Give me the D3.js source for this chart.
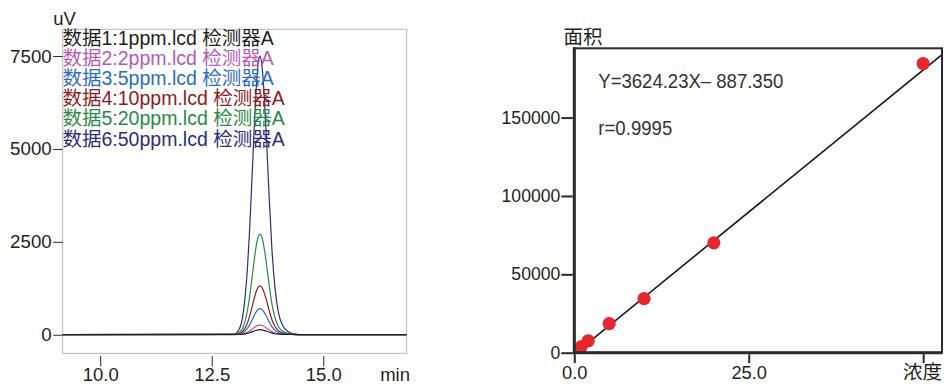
<!DOCTYPE html>
<html><head><meta charset="utf-8">
<script src="https://cdn.jsdelivr.net/npm/d3@7"></script>
<style>
html,body{margin:0;padding:0;background:#fff;}
svg{display:block;}
text{font-family:"Liberation Sans",Arial,"Noto Sans CJK SC",sans-serif;}
</style></head><body>
<svg id="c" width="944" height="384"></svg>
<script>
// ---------- Chromatogram data (min, uV) ----------
const times = [9.15, 13.0, 13.1, 13.2, 13.3, 13.35, 13.4, 13.45, 13.5, 13.55, 13.58, 13.62, 13.67, 13.72, 13.78, 13.85, 13.92, 14.0, 14.1, 14.2, 14.3, 14.45, 16.87];
const s1 = [5, 5, 7, 14, 36, 54, 77, 100, 121, 133, 135, 132, 119, 99, 73, 45, 26, 15, 9, 7, 6, 5, 5];
const s2 = [5, 6, 9, 23, 65, 101, 146, 192, 232, 256, 260, 253, 228, 190, 138, 83, 47, 24, 13, 8, 6, 5, 5];
const s3 = [5, 6, 15, 54, 170, 268, 389, 514, 623, 689, 700, 682, 614, 510, 366, 216, 120, 57, 26, 13, 8, 5, 5];
const s4 = [5, 8, 24, 97, 316, 501, 729, 967, 1171, 1296, 1317, 1283, 1154, 957, 687, 404, 221, 103, 44, 21, 10, 5, 5];
const s5 = [5, 10, 44, 195, 645, 1026, 1495, 1984, 2405, 2662, 2705, 2635, 2370, 1965, 1409, 826, 451, 208, 86, 37, 16, 5, 5];
const s6 = [5, 20, 114, 533, 1781, 2838, 4142, 5499, 6668, 7380, 7500, 7305, 6571, 5446, 3902, 2283, 1242, 567, 230, 95, 35, 5, 5];
const seriesValues = [s1, s2, s3, s4, s5, s6];
const seriesNames = ["数据1:1ppm.lcd 检测器A", "数据2:2ppm.lcd 检测器A", "数据3:5ppm.lcd 检测器A",
                     "数据4:10ppm.lcd 检测器A", "数据5:20ppm.lcd 检测器A", "数据6:50ppm.lcd 检测器A"];
const seriesColors = ["#231f20", "#b45cb6", "#2f6cbf", "#8c1d24", "#2b8a49", "#2c2f78"];
const leftYMajor = [0, 2500, 5000, 7500];
const leftXMajor = [10.0, 12.5, 15.0];
const leftYLabel = "uV", leftXLabel = "min";

// ---------- Calibration data ----------
const conc = [1, 2, 5, 10, 20, 50];
const area = [3900, 7600, 18500, 34500, 70100, 184500];
const slope = 3624.23, intercept = -887.350;
const eqText = "Y=3624.23X– 887.350";
const rText = "r=0.9995";
const rightYMajor = [0, 50000, 100000, 150000];
const rightXMajor = [0, 25];
const rightYLabel = "面积", rightXLabel = "浓度";

const svg = d3.select("#c");
const dark = "#2b2b2b";

// ================= LEFT CHART =================
const L = {x0: 62.7, x1: 406.7, y0: 29.3, y1: 353.3};
const xL = d3.scaleLinear().domain([9.16, 16.87]).range([L.x0, L.x1]);
const yL = d3.scaleLinear().domain([-500, 8220]).range([L.y1, L.y0]);

svg.append("rect").attr("x", L.x0).attr("y", L.y0).attr("width", L.x1 - L.x0).attr("height", L.y1 - L.y0)
  .attr("fill", "none").attr("stroke", "#b9b9b9").attr("stroke-width", 1);

// y axis (left chart)
const gyL = svg.append("g").attr("transform", `translate(${L.x0},0)`);
gyL.call(d3.axisLeft(yL).tickValues(d3.range(-500, 8001, 500)).tickSize(5).tickFormat(""));
gyL.call(d3.axisLeft(yL).tickValues(leftYMajor).tickSize(9.5).tickPadding(1.5).tickFormat(d3.format("d")));
gyL.selectAll(".domain").remove();
gyL.selectAll("line").attr("stroke", dark).attr("stroke-width", 1);
gyL.selectAll("text").attr("font-size", "18.7px").attr("fill", "#231f20").attr("font-family", null);

// x axis (left chart)
const gxL = svg.append("g").attr("transform", `translate(0,${L.y1 + 2.7})`);
gxL.call(d3.axisBottom(xL).tickValues(d3.range(9.5, 16.6, 0.5)).tickSize(5).tickFormat(""));
gxL.call(d3.axisBottom(xL).tickValues(leftXMajor).tickSize(10.5).tickPadding(13).tickFormat(d3.format(".1f")));
gxL.selectAll(".domain").remove();
gxL.selectAll("line").attr("stroke", dark).attr("stroke-width", 1);
gxL.selectAll("text").attr("font-size", "18.5px").attr("fill", "#231f20").attr("font-family", null)
  .attr("dy", null).attr("y", 25);

svg.append("text").attr("x", 53.3).attr("y", 25).attr("font-size", "18.5px").attr("fill", "#231f20").text(leftYLabel);
svg.append("text").attr("x", 410).attr("y", 381).attr("text-anchor", "end").attr("font-size", "18.5px").attr("fill", "#231f20").text(leftXLabel);

// traces
svg.append("clipPath").attr("id", "clipL").append("rect")
  .attr("x", L.x0).attr("y", L.y0).attr("width", L.x1 - L.x0).attr("height", L.y1 - L.y0);
const line = d3.line().x((d, i) => xL(times[i])).y(d => yL(d)).curve(d3.curveMonotoneX);
const gTr = svg.append("g").attr("clip-path", "url(#clipL)");
for (let k = seriesValues.length - 1; k >= 0; k--) {
  gTr.append("path").attr("d", line(seriesValues[k])).attr("fill", "none")
    .attr("stroke", seriesColors[k]).attr("stroke-width", 1.2);
}

// legend
seriesNames.forEach((n, i) => {
  svg.append("text").attr("x", 62.5).attr("y", 44.5 + i * 20.2).attr("font-size", "19.5px")
    .attr("fill", seriesColors[i]).text(n);
});

// ================= RIGHT CHART =================
const R = {x0: 574.3, x1: 942, y0: 48.3, y1: 352.7};
const xR = d3.scaleLinear().domain([0, 52.7]).range([R.x0, R.x1]);
const yR = d3.scaleLinear().domain([0, 194200]).range([R.y1, R.y0]);

svg.append("clipPath").attr("id", "clipR").append("rect")
  .attr("x", R.x0).attr("y", R.y0).attr("width", R.x1 - R.x0).attr("height", R.y1 - R.y0);

// regression line
const xs = xR.domain();
svg.append("path").attr("clip-path", "url(#clipR)")
  .attr("d", d3.line().x(d => xR(d)).y(d => yR(slope * d + intercept))(xs))
  .attr("fill", "none").attr("stroke", "#1a1a1a").attr("stroke-width", 1.6);

// points
svg.append("g").attr("clip-path", "url(#clipR)").selectAll("circle").data(conc).join("circle")
  .attr("cx", d => xR(d)).attr("cy", (d, i) => yR(area[i])).attr("r", 6.6).attr("fill", "#e8262e");

// frame
svg.append("rect").attr("x", R.x0).attr("y", R.y0).attr("width", R.x1 - R.x0).attr("height", R.y1 - R.y0)
  .attr("fill", "none").attr("stroke", dark).attr("stroke-width", 2);
svg.append("line").attr("x1", R.x0).attr("x2", R.x0).attr("y1", R.y0 - 1).attr("y2", R.y1 + 1.5).attr("stroke", dark).attr("stroke-width", 3);
svg.append("line").attr("x1", R.x0 - 1.5).attr("x2", R.x1).attr("y1", R.y1).attr("y2", R.y1).attr("stroke", dark).attr("stroke-width", 3);

// y axis (right)
const gyR = svg.append("g").attr("transform", `translate(${R.x0 - 1.5},0)`);
gyR.call(d3.axisLeft(yR).tickValues(d3.range(0, 190001, 10000)).tickSize(6).tickFormat(""));
gyR.call(d3.axisLeft(yR).tickValues(rightYMajor).tickSize(11.5).tickPadding(1).tickFormat(d3.format("d")));
gyR.selectAll(".domain").remove();
gyR.selectAll("line").attr("stroke", dark).attr("stroke-width", 2);
gyR.selectAll("text").attr("font-size", "17.6px").attr("fill", "#231f20").attr("font-family", null);

// x axis (right)
const gxR = svg.append("g").attr("transform", `translate(0,${R.y1 + 1.5})`);
gxR.call(d3.axisBottom(xR).tickValues(d3.range(5, 46, 5).filter(v => v !== 25)).tickSize(5).tickFormat(""));
gxR.call(d3.axisBottom(xR).tickValues([0, 25, 50]).tickSize(9).tickFormat((d) => rightXMajor.includes(d) ? d3.format(".1f")(d) : ""));
gxR.selectAll(".domain").remove();
gxR.selectAll("line").attr("stroke", dark).attr("stroke-width", 2);
gxR.selectAll("text").attr("font-size", "18.3px").attr("fill", "#231f20").attr("font-family", null)
  .attr("dy", null).attr("y", 24.5);

svg.append("text").attr("x", 563.5).attr("y", 44).attr("font-size", "19.5px").attr("fill", "#231f20").text(rightYLabel);
svg.append("text").attr("x", 942).attr("y", 379).attr("text-anchor", "end").attr("font-size", "19.5px").attr("fill", "#231f20").text(rightXLabel);

// annotations
svg.append("text").attr("x", 598.3).attr("y", 88.3).attr("font-size", "20px").attr("fill", "#333")
  .attr("textLength", 185).attr("lengthAdjust", "spacingAndGlyphs").text(eqText);
svg.append("text").attr("x", 598.3).attr("y", 135).attr("font-size", "20px").attr("fill", "#333")
  .attr("textLength", 74).attr("lengthAdjust", "spacingAndGlyphs").text(rText);
</script>
</body></html>
